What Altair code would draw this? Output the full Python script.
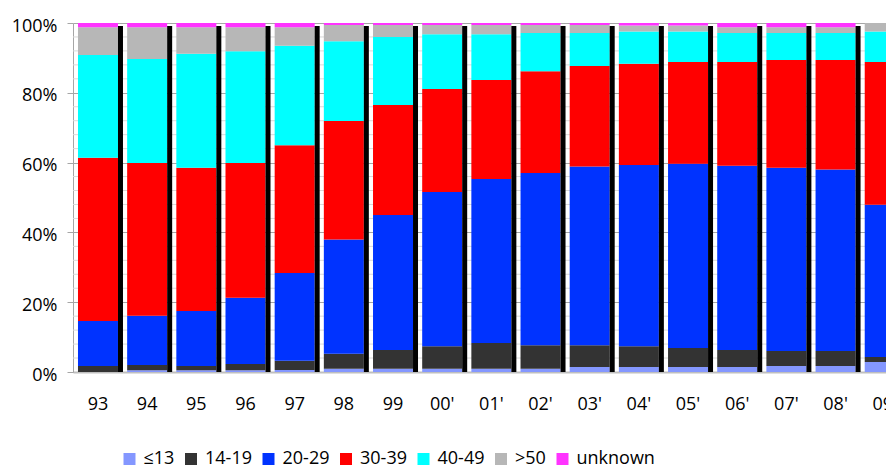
import json
import altair as alt
import pandas as pd

years = ["93", "94", "95", "96", "97", "98", "99", "00'", "01'", "02'",
         "03'", "04'", "05'", "06'", "07'", "08'", "09'"]
groups = ["≤13", "14-19", "20-29", "30-39", "40-49", ">50", "unknown"]
colors = ["#8497FF", "#333333", "#0033FF", "#FF0000", "#00FFFF", "#B7B7B7", "#FF33FF"]

# shares in percent, per year
le13 = [0.0, 0.5, 0.5, 0.5, 0.6, 0.9, 0.9, 0.9, 0.9, 0.9, 1.4, 1.4, 1.4, 1.4, 1.7, 1.7, 2.9]
a14_19 = [1.7, 1.5, 1.2, 1.8, 2.6, 4.3, 5.4, 6.5, 7.4, 6.8, 6.3, 6.0, 5.5, 4.9, 4.3, 4.3, 1.4]
a20_29 = [12.9, 14.1, 15.8, 19.0, 25.2, 32.8, 38.7, 44.2, 47.0, 49.3, 51.2, 51.9, 52.8, 52.8, 52.5, 52.0, 43.6]
a30_39 = [46.8, 43.8, 41.0, 38.6, 36.6, 33.9, 31.5, 29.5, 28.4, 29.2, 28.8, 29.0, 29.1, 29.7, 30.9, 31.4, 40.9]
a40_49 = [29.4, 29.8, 32.7, 32.0, 28.5, 22.9, 19.5, 15.7, 13.1, 10.9, 9.4, 9.3, 8.8, 8.3, 7.7, 7.7, 8.8]
gt50 = [8.0, 9.1, 7.6, 6.9, 5.3, 4.6, 3.4, 2.6, 2.6, 2.3, 2.3, 1.7, 1.7, 1.7, 1.7, 1.7, 2.4]
unknown = [1.2, 1.2, 1.2, 1.2, 1.2, 0.6, 0.6, 0.6, 0.6, 0.6, 0.6, 0.7, 0.7, 1.2, 1.2, 1.2, 0.0]

series = [le13, a14_19, a20_29, a30_39, a40_49, gt50, unknown]

y_ticks = [0, 0.2, 0.4, 0.6, 0.8, 1.0]
minor_grid = [0.04, 0.08, 0.12, 0.16, 0.24, 0.28, 0.32, 0.36, 0.44, 0.48, 0.52, 0.56,
              0.64, 0.68, 0.72, 0.76, 0.84, 0.88, 0.92, 0.96]

rows = []
for i, yr in enumerate(years):
    for k, (g, vals) in enumerate(zip(groups, series)):
        rows.append({"idx": i, "year": yr, "group": g, "ord": k, "value": vals[i]})
df = pd.DataFrame(rows)
df_shadow = pd.DataFrame({"idx": list(range(len(years)))})
df_grid = pd.DataFrame({"v": minor_grid})

FONT = "Open Sans"
x_scale = alt.Scale(domain=[-0.498, 16.036], zero=False, nice=False, padding=0)
y_scale = alt.Scale(domain=[0, 1], nice=False, zero=True)

x_axis = alt.Axis(values=list(range(len(years))),
                  labelExpr=json.dumps(years) + "[datum.value]",
                  ticks=False, tickSize=0, grid=False,
                  labelPadding=23, labelFlush=False, labelOverlap=False,
                  labelFont=FONT, labelFontSize=18, labelColor="#000000",
                  domainColor="#BFBFBF", domainWidth=2)
y_axis = alt.Axis(values=y_ticks, format=".0%", tickSize=6,
                  tickColor="#A6A6A6", domainColor="#A6A6A6",
                  grid=True, gridColor="#A6A6A6",
                  labelPadding=10, labelOffset=3, labelFlush=False,
                  labelFont=FONT, labelFontSize=18, labelColor="#000000")

grid = alt.Chart(df_grid).mark_rule(color="#D9D9D9", strokeWidth=1).encode(
    y=alt.Y("v:Q", scale=y_scale, axis=y_axis, title=None)
)

bars = alt.Chart(df).mark_bar(width=40, xOffset=0.5, clip=True).encode(
    x=alt.X("idx:Q", scale=x_scale, title=None, axis=x_axis),
    y=alt.Y("value:Q", stack="normalize", scale=y_scale, title=None, axis=y_axis),
    color=alt.Color("group:N", scale=alt.Scale(domain=groups, range=colors),
                    legend=alt.Legend(title=None, orient="none", legendX=47.5, legendY=427,
                                      direction="horizontal", symbolType="square",
                                      symbolSize=144, symbolStrokeWidth=0,
                                      labelFont=FONT, labelFontSize=18, labelColor="#000000",
                                      labelOffset=5, columnPadding=7.5, padding=0,
                                      labelLimit=0)),
    order=alt.Order("ord:Q", sort="ascending"),
)

shadow = alt.Chart(df_shadow).mark_bar(width=5, xOffset=23, yOffset=3, color="#000000",
                                       clip=True).encode(
    x=alt.X("idx:Q", scale=x_scale, title=None, axis=x_axis),
    y=alt.datum(1, scale=y_scale, axis=y_axis, title=None),
    y2=alt.datum(0),
)

chart = alt.layer(grid, bars, shadow).properties(
    width=813, height=349,
    padding={"left": 65, "top": 15, "right": 0, "bottom": 96},
    autosize=alt.AutoSizeParams(type="none"),
    background="#FFFFFF",
).configure_view(stroke=None)

chart.save("out.html", embed_options={"renderer": "svg", "actions": False})
